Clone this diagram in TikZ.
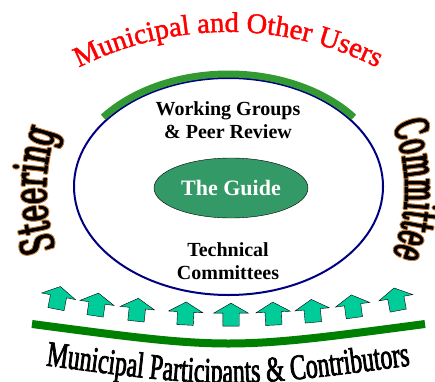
\documentclass[tikz,border=0pt]{standalone}
\usepackage{fontspec}
\setmainfont{Liberation Serif}
\newfontfamily\archserif[FakeBold=1.5]{Liberation Serif}
\newfontfamily\narrowserif[FakeStretch=0.66,FakeBold=2]{Liberation Serif}
\newfontfamily\tallserif[FakeStretch=0.6,FakeBold=2]{DejaVu Serif}
\newfontfamily\tallnarrow[FakeStretch=0.52,FakeBold=2]{DejaVu Serif}
\usetikzlibrary{shapes.geometric, shapes.arrows, decorations.text, positioning}

\definecolor{rimblue}{RGB}{0,0,128}
\definecolor{archgreen}{RGB}{51,153,51}
\definecolor{basegreen}{RGB}{0,128,0}
\definecolor{guidegreen}{RGB}{51,153,102}
\definecolor{liftteal}{RGB}{0,204,153}
\definecolor{halobrown}{RGB}{196,128,64}

\tikzset{
    rim/.style={ellipse, draw=rimblue, line width=2pt, minimum width=309pt, minimum height=217pt, inner sep=0pt},
    guide/.style={ellipse, draw=black, fill=guidegreen, minimum width=154pt, minimum height=60pt, inner sep=0pt, text=white, font=\fontsize{22}{24}\selectfont\bfseries},
    tagtext/.style={align=center, inner sep=0pt, font=\fontsize{20}{23}\selectfont\bfseries},
    lift/.style={single arrow, draw=black, fill=liftteal, minimum height=23pt, inner xsep=0pt, inner ysep=8pt, single arrow head extend=9pt, single arrow tip angle=120},
    bar/.style={line width=7pt, line cap=butt}
}

\begin{document}
\begin{tikzpicture}[x=1pt, y=1pt]
    \useasboundingbox (0,0) rectangle (435,381);

    \node[rim] (forum) at (228.5,194.5) {};
    \node[guide] (guide) at (231,193) {The Guide};
    \node[tagtext] (groups) at (228,261) {Working Groups\\\& Peer Review};
    \node[tagtext] (tech) at (228,119.5) {Technical\\Committees};

    % green arch over the rim
    \draw[archgreen, bar] ([shift={(38:159 and 112.5)}]forum.center) arc[start angle=38, end angle=142, x radius=159, y radius=112.5];

    % arrows lifting up from the base
    \coordinate (hub) at (231,964);
    \foreach \a [count=\i] in {-11.1,-8.6,-6,-2.9,0,2.7,5.2,7.8,10.6}
        \node[lift, rotate=90+\a] (lift\i) at ([shift={(270+\a:900)}]hub) {};

    % base bar
    \draw[basegreen, line width=8pt] (32,57) .. controls (228.5,31) .. (425,57);

    % curved words
    \coordinate (tophub) at (228,19);
    \coordinate (sidehub) at (228,191);
    \path[decorate, decoration={text along path, text align=center,
        text={|\archserif\color{red}\fontsize{28.5}{28.5}\selectfont|Municipal and Other Users}}]
        ([shift={(150:330)}]tophub) arc[start angle=150, end angle=30, radius=330];

    % brown halo under the side words
    \foreach \d in {0,45,...,315} {
        \path[decorate, decoration={text along path, text align=center,
            text={|\tallserif\color{halobrown}\fontsize{46}{46}\selectfont|Steering}}]
            ([shift={(\d:1)}, shift={(215:182)}]sidehub) arc[start angle=215, end angle=145, radius=182];
        \path[decorate, decoration={text along path, text align=center,
            text={|\tallnarrow\color{halobrown}\fontsize{46}{46}\selectfont|Committee}}]
            ([shift={(\d:1)}, shift={(35:177)}]sidehub) arc[start angle=35, end angle=-35, radius=177];
    }
    \path[decorate, decoration={text along path, text align=center,
        text={|\tallserif\color{black}\fontsize{46}{46}\selectfont|Steering}}]
        ([shift={(215:182)}]sidehub) arc[start angle=215, end angle=145, radius=182];
    \path[decorate, decoration={text along path, text align=center,
        text={|\tallnarrow\color{black}\fontsize{46}{46}\selectfont|Committee}}]
        ([shift={(35:177)}]sidehub) arc[start angle=35, end angle=-35, radius=177];

    \path[decorate, decoration={text along path, text align=center,
        text={|\narrowserif\fontsize{36}{36}\selectfont|Municipal Participants {\&} Contributors}}]
        (20,19) .. controls (228,-9) .. (436,19);
\end{tikzpicture}
\end{document}
